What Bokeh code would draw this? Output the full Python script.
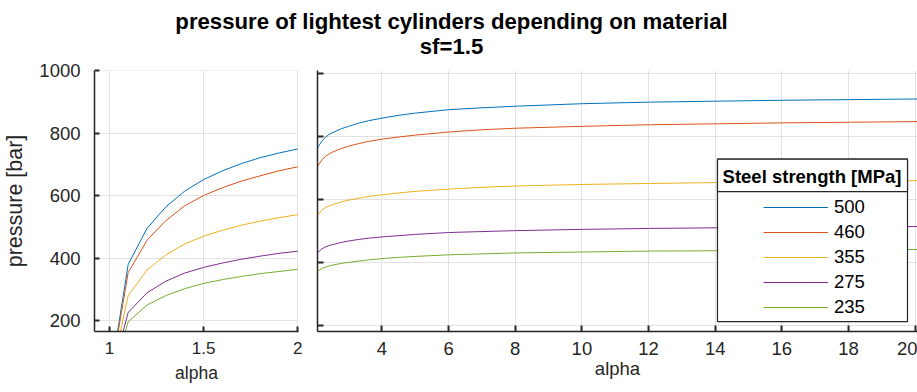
from bokeh.plotting import figure
from bokeh.models import (FixedTicker, Legend, LegendItem, Label, BoxAnnotation,
                          CustomJSTickFormatter, Range1d)
from bokeh.layouts import column, row
from bokeh.embed import file_html
from bokeh.resources import INLINE

# ---------------- data ----------------
strengths = ["500", "460", "355", "275", "235"]
colors = ["#0072BD", "#D95319", "#EDB120", "#7E2F8E", "#77AC30"]

alpha_left = [1.0, 1.1, 1.2, 1.3, 1.4, 1.5, 1.6, 1.7, 1.8, 1.9, 2.0]
p500_left = [0, 381, 496, 565, 615, 652, 680, 703, 722, 737, 750]
p460_left = [0, 355, 458, 521, 568, 601, 626, 647, 664, 680, 693]
p355_left = [0, 281, 363, 411, 446, 471, 490, 506, 519, 530, 540]
p275_left = [0, 227, 290, 327, 353, 371, 385, 397, 407, 416, 423]
p235_left = [0, 197, 251, 281, 303, 320, 332, 342, 351, 358, 365]

alpha_right = [2.0, 2.1, 2.2, 2.3, 2.4, 2.5, 2.65, 2.8, 3.0, 3.3, 3.6, 4.0, 4.5, 5.0,
               6.0, 7.0, 8.0, 10.0, 12.0, 14.0, 16.0, 18.0, 20.0, 20.3]
p500_right = [750, 770, 786, 798, 806, 812, 819, 826, 833, 843, 851, 859, 868, 875,
              886, 892, 897, 905, 910, 913, 916, 918, 920, 920]
p460_right = [693, 711, 726, 737, 744, 750, 757, 763, 770, 778, 785, 792, 799, 805,
              815, 822, 827, 833, 838, 841, 844, 846, 848, 848]
p355_right = [540, 554, 566, 574, 579, 583, 588, 593, 598, 604, 610, 615, 621, 626,
              633, 639, 643, 648, 651, 654, 656, 658, 660, 660]
p275_right = [423, 434, 443, 449, 453, 456, 460, 464, 468, 473, 477, 481, 485, 489,
              495, 498, 501, 505, 508, 510, 511, 513, 514, 514]
p235_right = [365, 374, 381, 385, 388, 391, 394, 397, 400, 404, 408, 412, 416, 419,
              424, 427, 430, 433, 436, 437, 439, 440, 441, 441]

left_xticks = [1, 1.5, 2]
left_xtick_labels = ["1", "1.5", "2"]
yticks = [200, 400, 600, 800, 1000]
right_xticks = [4, 6, 8, 10, 12, 14, 16, 18, 20]

title_line1 = "pressure of lightest cylinders depending on material"
title_line2 = "sf=1.5"
legend_title = "Steel strength [MPa]"

left_series = [p500_left, p460_left, p355_left, p275_left, p235_left]
right_series = [p500_right, p460_right, p355_right, p275_right, p235_right]

FONT = "Liberation Sans"
DARK = "#262626"
GRID = "#e2e2e2"

# axis ranges
LX = (0.921, 2.004)
LY = (166, 1001)
RX = (2.067, 20.07)
RY = (180, 1010.7)

TOTAL_W = 917
LEFT_W = 310
RIGHT_W = TOTAL_W - LEFT_W
TH = 55
RH = 333


def style_axis(ax, tick_font, standoff, tick_in=5):
    ax.axis_line_color = DARK
    ax.axis_line_width = 1.5
    ax.major_tick_line_color = DARK
    ax.major_tick_line_width = 2
    ax.major_tick_in = tick_in
    ax.major_tick_out = 0
    ax.minor_tick_line_color = None
    ax.major_label_text_font = FONT
    ax.major_label_text_font_size = tick_font
    ax.major_label_text_color = DARK
    ax.major_label_standoff = standoff
    ax.axis_label_text_font = FONT
    ax.axis_label_text_font_style = "normal"
    ax.axis_label_text_color = DARK


# ---------------- title ----------------
tf = figure(width=TOTAL_W, height=TH, x_range=Range1d(0, TOTAL_W), y_range=Range1d(0, TH),
            toolbar_location=None, output_backend="svg", min_border=0,
            x_axis_type=None, y_axis_type=None, outline_line_color=None)
tf.add_layout(Label(x=451, y=TH - 20.5, text=title_line1, text_align="center",
                    text_baseline="alphabetic", text_font=FONT, text_font_size="22.2px",
                    text_font_style="bold", text_color="#000000"))
tf.add_layout(Label(x=451, y=TH - 46, text=title_line2, text_align="center",
                    text_baseline="alphabetic", text_font=FONT, text_font_size="22.2px",
                    text_font_style="bold", text_color="#000000"))

# ---------------- left panel ----------------
lf = figure(width=LEFT_W, height=RH, x_range=Range1d(*LX), y_range=Range1d(*LY),
            toolbar_location=None, output_backend="svg",
            min_border_left=89, min_border_right=12, min_border_top=11, min_border_bottom=57,
            outline_line_color=None)
for ys, c in zip(left_series, colors):
    lf.line(alpha_left, ys, line_color=c, line_width=1)

lt = FixedTicker(ticks=left_xticks)
yt = FixedTicker(ticks=yticks)
lf.xaxis.ticker = lt
lf.xgrid.ticker = lt
lf.yaxis.ticker = yt
lf.ygrid.ticker = yt
lf.xaxis.major_label_overrides = {t: s for t, s in zip(left_xticks, left_xtick_labels)}
style_axis(lf.xaxis[0], "17px", 10)
style_axis(lf.yaxis[0], "18.5px", 14)
lf.xaxis.axis_label = "alpha"
lf.xaxis.axis_label_text_font_size = "17.5px"
lf.xaxis.axis_label_standoff = 6
lf.yaxis.axis_label = "pressure [bar]"
lf.yaxis.axis_label_text_font_size = "21.5px"
lf.yaxis.axis_label_standoff = 9
lf.xgrid.grid_line_color = GRID
lf.ygrid.grid_line_color = GRID

# ---------------- right panel ----------------
rf = figure(width=RIGHT_W, height=RH, x_range=Range1d(*RX), y_range=Range1d(*RY),
            toolbar_location=None, output_backend="svg",
            min_border_left=7, min_border_right=0, min_border_top=15, min_border_bottom=53,
            outline_line_color=None)
renderers = []
for ys, c in zip(right_series, colors):
    renderers.append(rf.line(alpha_right, ys, line_color=c, line_width=1))

rt = FixedTicker(ticks=right_xticks)
ryt = FixedTicker(ticks=yticks)
rf.xaxis.ticker = rt
rf.xgrid.ticker = rt
rf.yaxis.ticker = ryt
rf.ygrid.ticker = ryt
style_axis(rf.xaxis[0], "18.5px", 10, tick_in=6)
style_axis(rf.yaxis[0], "18px", 0, tick_in=6)
rf.yaxis.formatter = CustomJSTickFormatter(code="return ''")
rf.xaxis.axis_label = "alpha"
rf.xaxis.axis_label_text_font_size = "18.5px"
rf.xaxis.axis_label_standoff = 0
rf.xgrid.grid_line_color = GRID
rf.ygrid.grid_line_color = GRID

# legend frame: page-pixel positions mapped into the right panel's data space
FR_L, FR_T, FR_W, FR_H = 325, 78, RIGHT_W - 7, RH - 15 - 53


def rx(px):
    return RX[0] + (px - FR_L) * (RX[1] - RX[0]) / FR_W


def ry(py):
    return RY[1] - (py - FR_T) * (RY[1] - RY[0]) / FR_H


rf.add_layout(BoxAnnotation(left=rx(725), right=rx(915), top=ry(168), bottom=ry(333),
                            fill_color="white", fill_alpha=1.0,
                            line_color=DARK, line_width=1.2, line_alpha=1.0))
rf.add_layout(BoxAnnotation(left=rx(725), right=rx(915), top=ry(168), bottom=ry(201),
                            fill_color="white", fill_alpha=1.0,
                            line_color=DARK, line_width=1.2, line_alpha=1.0))
rf.add_layout(Label(x=rx(819.5), y=ry(185.5), text=legend_title, text_align="center",
                    text_baseline="middle", text_font=FONT, text_font_size="18.5px",
                    text_font_style="bold", text_color="#000000"))

legend = Legend(items=[LegendItem(label=s, renderers=[r]) for s, r in zip(strengths, renderers)],
                location=(446, 13), orientation="vertical", padding=0, margin=0,
                spacing=3, label_height=22, glyph_height=22, glyph_width=65,
                label_standoff=6, label_text_font=FONT, label_text_font_size="18.5px",
                label_text_color="#000000", border_line_color=None,
                background_fill_alpha=0)
rf.add_layout(legend, "center")

layout = column(tf, row(lf, rf))
open("out.html", "w").write(file_html(layout, INLINE))
